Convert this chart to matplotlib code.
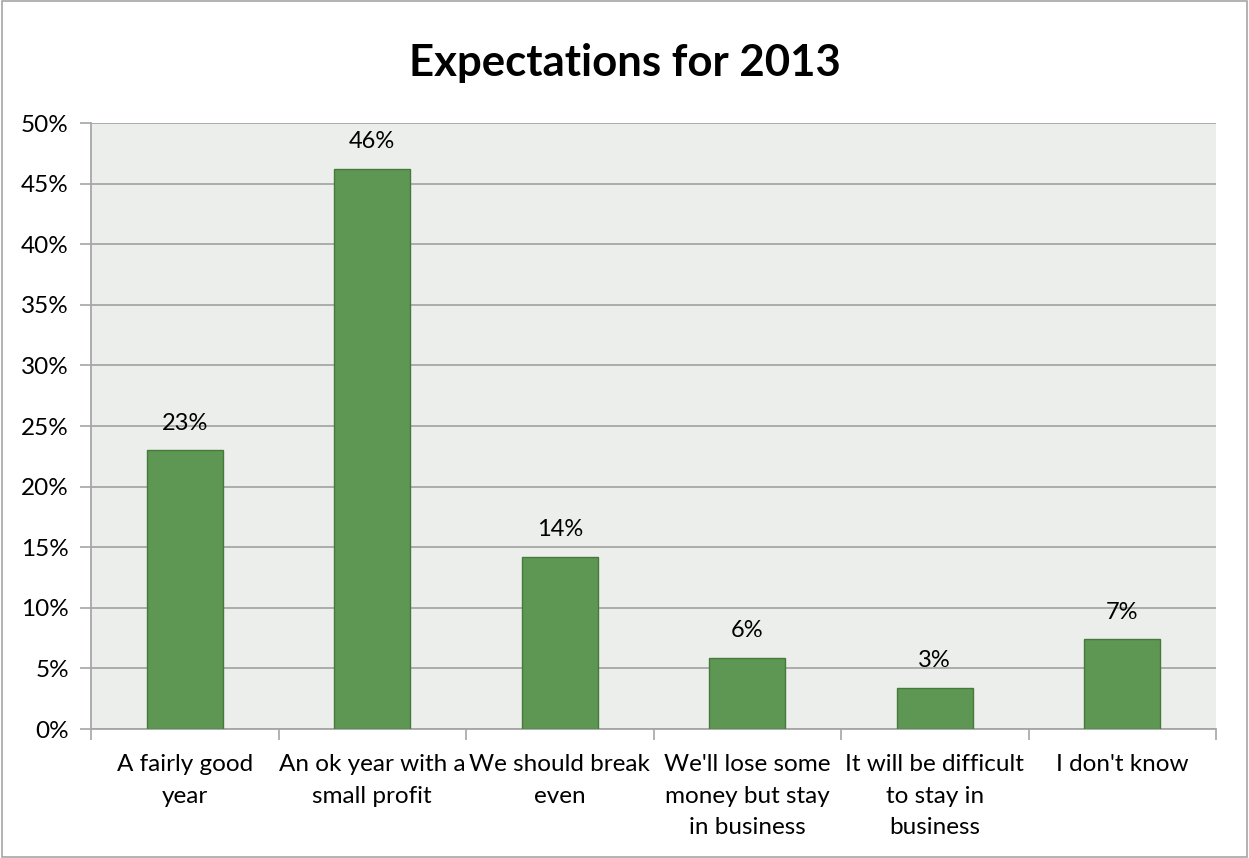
import matplotlib
matplotlib.use("Agg")
import matplotlib.pyplot as plt
from matplotlib.patches import Rectangle
from matplotlib.ticker import PercentFormatter, FixedLocator
import numpy as np

plt.rcParams['font.family'] = ['Lato', 'DejaVu Sans']

categories = [
    "A fairly good\nyear",
    "An ok year with a\nsmall profit",
    "We should break\neven",
    "We'll lose some\nmoney but stay\nin business",
    "It will be difficult\nto stay in\nbusiness",
    "I don't know",
]
shares = [0.230, 0.462, 0.142, 0.059, 0.034, 0.074]
y_ticks = [0.0, 0.05, 0.10, 0.15, 0.20, 0.25, 0.30, 0.35, 0.40, 0.45, 0.50]
title = "Expectations for 2013"

fig = plt.figure(figsize=(12.49, 8.58), dpi=100)
fig.patches.append(Rectangle((0.0015, 0.001), 0.997, 0.998, transform=fig.transFigure,
                             fill=False, edgecolor="#a6a6a6", linewidth=1.2))
ax = fig.add_axes([0.0729, 0.1503, 0.9007, 0.7063])
ax.set_facecolor("#eceeeb")

x = np.arange(len(categories))
bars = ax.bar(x, shares, width=0.405, color="#5e9653", edgecolor="#467a3c", linewidth=1.0, zorder=3)
for b, v in zip(bars, shares):
    ax.annotate(f"{v:.0%}", (b.get_x() + b.get_width() / 2, v), xytext=(0, 12),
                textcoords="offset points", ha="center", va="bottom", fontsize=17, zorder=4)

ax.set_xlim(-0.5, len(categories) - 0.5)
ax.set_ylim(0, 0.5)
ax.set_yticks(y_ticks)
ax.yaxis.set_major_formatter(PercentFormatter(1.0, decimals=0))
ax.grid(axis="y", color="#a6a6a6", linewidth=1.3, zorder=0)
ax.set_axisbelow(True)

ax.set_xticks(x)
ax.set_xticklabels(categories, fontsize=17.5, linespacing=1.62)
ax.xaxis.set_minor_locator(FixedLocator(np.arange(-0.5, len(categories), 1.0)))
ax.tick_params(axis="x", which="major", length=0, pad=18)
ax.tick_params(axis="x", which="minor", length=8, width=1.2, color="#a6a6a6", direction="out")
ax.tick_params(axis="y", length=8, width=1.2, color="#a6a6a6", labelsize=17.5, pad=8)
for lbl in ax.get_xticklabels():
    lbl.set_verticalalignment("top")

for side in ("top", "right"):
    ax.spines[side].set_visible(False)
for side in ("left", "bottom"):
    ax.spines[side].set_color("#a6a6a6")
    ax.spines[side].set_linewidth(1.3)

fig.text(0.5, 0.927, title, ha="center", va="center", fontsize=31.5, fontweight="bold")

fig.savefig("out.png", dpi=100)
